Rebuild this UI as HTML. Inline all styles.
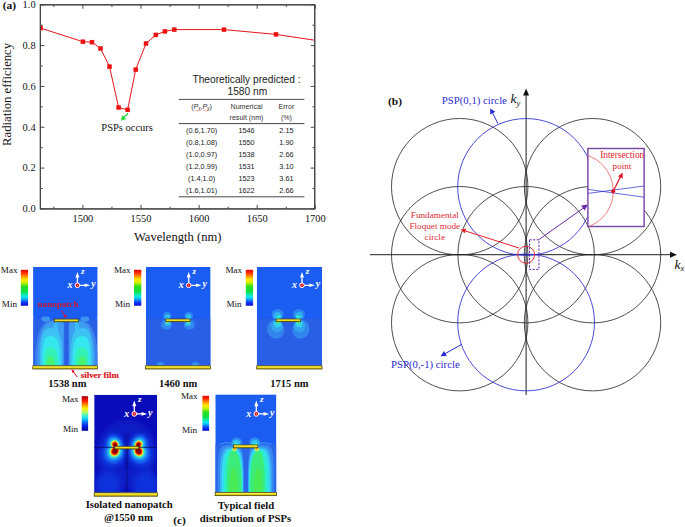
<!DOCTYPE html>
<html><head><meta charset="utf-8"><title>figure</title>
<style>html,body{margin:0;padding:0;background:#fff;}svg{display:block;}text{white-space:pre;}</style></head><body>
<svg width="685" height="527" viewBox="0 0 685 527">
<rect width="685" height="527" fill="#fff"/>
<defs>
<linearGradient id="jet" x1="0" y1="0" x2="0" y2="1"><stop offset="0" stop-color="#e80000"/><stop offset="0.08" stop-color="#ff2800"/><stop offset="0.18" stop-color="#ff9000"/><stop offset="0.27" stop-color="#ffe800"/><stop offset="0.36" stop-color="#c8f000"/><stop offset="0.46" stop-color="#30e020"/><stop offset="0.6" stop-color="#10e040"/><stop offset="0.68" stop-color="#10e8a0"/><stop offset="0.76" stop-color="#10e8f0"/><stop offset="0.84" stop-color="#1090f0"/><stop offset="0.92" stop-color="#1030f0"/><stop offset="1" stop-color="#0808c8"/></linearGradient>
<linearGradient id="hot" x1="0" y1="0" x2="0" y2="1"><stop offset="0" stop-color="#900000"/><stop offset="0.05" stop-color="#d00000"/><stop offset="0.14" stop-color="#ff2000"/><stop offset="0.25" stop-color="#ff9000"/><stop offset="0.35" stop-color="#fff000"/><stop offset="0.46" stop-color="#b0f860"/><stop offset="0.55" stop-color="#50f0c0"/><stop offset="0.64" stop-color="#10d8f8"/><stop offset="0.75" stop-color="#1070f8"/><stop offset="0.86" stop-color="#0820e0"/><stop offset="1" stop-color="#0404a0"/></linearGradient>
<linearGradient id="gold" x1="0" y1="0" x2="0" y2="1"><stop offset="0" stop-color="#fff458"/><stop offset="0.55" stop-color="#eedc20"/><stop offset="1" stop-color="#b09800"/></linearGradient>
<filter id="b1" x="-30%" y="-30%" width="160%" height="160%"><feGaussianBlur stdDeviation="1"/></filter>
<filter id="b2" x="-30%" y="-30%" width="160%" height="160%"><feGaussianBlur stdDeviation="2"/></filter>
<filter id="b3" x="-30%" y="-30%" width="160%" height="160%"><feGaussianBlur stdDeviation="3"/></filter>
<filter id="b07" x="-30%" y="-30%" width="160%" height="160%"><feGaussianBlur stdDeviation="0.7"/></filter>
<filter id="b06" x="-10%" y="-30%" width="120%" height="160%"><feGaussianBlur stdDeviation="0.7"/></filter>
<filter id="b05" x="-30%" y="-30%" width="160%" height="160%"><feGaussianBlur stdDeviation="0.5"/></filter>
</defs>
<g id="chartA">
<rect x="40.4" y="4.8" width="274.3" height="204.1" fill="none" stroke="#484848" stroke-width="1.15"/>
<path d="M53.85 208.9 v-2.3 M53.85 4.8 v2.3 M82.90 208.9 v-4.0 M82.90 4.8 v4.0 M111.95 208.9 v-2.3 M111.95 4.8 v2.3 M141.00 208.9 v-4.0 M141.00 4.8 v4.0 M170.05 208.9 v-2.3 M170.05 4.8 v2.3 M199.10 208.9 v-4.0 M199.10 4.8 v4.0 M228.15 208.9 v-2.3 M228.15 4.8 v2.3 M257.20 208.9 v-4.0 M257.20 4.8 v4.0 M286.25 208.9 v-2.3 M286.25 4.8 v2.3 M315.30 208.9 v-4.0 M315.30 4.8 v4.0 M40.4 208.90 h4.0 M314.7 208.90 h-4.0 M40.4 188.49 h2.3 M314.7 188.49 h-2.3 M40.4 168.08 h4.0 M314.7 168.08 h-4.0 M40.4 147.67 h2.3 M314.7 147.67 h-2.3 M40.4 127.26 h4.0 M314.7 127.26 h-4.0 M40.4 106.85 h2.3 M314.7 106.85 h-2.3 M40.4 86.44 h4.0 M314.7 86.44 h-4.0 M40.4 66.03 h2.3 M314.7 66.03 h-2.3 M40.4 45.62 h4.0 M314.7 45.62 h-4.0 M40.4 25.21 h2.3 M314.7 25.21 h-2.3 M40.4 4.80 h4.0 M314.7 4.80 h-4.0" stroke="#484848" stroke-width="1" fill="none"/>
<text x="82.90" y="221.6" font-family='"Liberation Serif", serif' font-size="10.4" text-anchor="middle" fill="#111">1500</text>
<text x="141.00" y="221.6" font-family='"Liberation Serif", serif' font-size="10.4" text-anchor="middle" fill="#111">1550</text>
<text x="199.10" y="221.6" font-family='"Liberation Serif", serif' font-size="10.4" text-anchor="middle" fill="#111">1600</text>
<text x="257.20" y="221.6" font-family='"Liberation Serif", serif' font-size="10.4" text-anchor="middle" fill="#111">1650</text>
<text x="315.30" y="221.6" font-family='"Liberation Serif", serif' font-size="10.4" text-anchor="middle" fill="#111">1700</text>
<text x="35.6" y="212.30" font-family='"Liberation Serif", serif' font-size="10.4" text-anchor="end" fill="#111">0.0</text>
<text x="35.6" y="171.48" font-family='"Liberation Serif", serif' font-size="10.4" text-anchor="end" fill="#111">0.2</text>
<text x="35.6" y="130.66" font-family='"Liberation Serif", serif' font-size="10.4" text-anchor="end" fill="#111">0.4</text>
<text x="35.6" y="89.84" font-family='"Liberation Serif", serif' font-size="10.4" text-anchor="end" fill="#111">0.6</text>
<text x="35.6" y="49.02" font-family='"Liberation Serif", serif' font-size="10.4" text-anchor="end" fill="#111">0.8</text>
<text x="35.6" y="8.20" font-family='"Liberation Serif", serif' font-size="10.4" text-anchor="end" fill="#111">1.0</text>
<text x="177.7" y="241.4" font-family='"Liberation Serif", serif' font-size="12.6" text-anchor="middle" fill="#111">Wavelength (nm)</text>
<text transform="translate(11.2,94.4) rotate(-90)" font-family='"Liberation Serif", serif' font-size="12.7" text-anchor="middle" fill="#111">Radiation efficiency</text>
<text x="2.7" y="9.1" font-family='"Liberation Serif", serif' font-size="11.4" font-weight="bold" fill="#111">(a)</text>
<clipPath id="plotclip"><rect x="40.4" y="4.8" width="274.3" height="204.1"/></clipPath>
<g clip-path="url(#plotclip)">
<path d="M40.6 28.1 L82.9 41.7 L92 42.2 L100.5 48.5 L109.5 66.6 L118.6 107.5 L127.6 109.8 L135.7 69.6 L146 43.5 L155.8 34.9 L164.9 31.4 L174.3 29.6 L224 29.6 L276 34.4 L314.5 40.2" fill="none" stroke="#e4151c" stroke-width="1.0" stroke-linejoin="round"/>
<rect x="38.35" y="25.85" width="4.5" height="4.5" fill="#ee1111"/>
<rect x="80.65" y="39.45" width="4.5" height="4.5" fill="#ee1111"/>
<rect x="89.75" y="39.95" width="4.5" height="4.5" fill="#ee1111"/>
<rect x="98.25" y="46.25" width="4.5" height="4.5" fill="#ee1111"/>
<rect x="107.25" y="64.35" width="4.5" height="4.5" fill="#ee1111"/>
<rect x="116.35" y="105.25" width="4.5" height="4.5" fill="#ee1111"/>
<rect x="125.35" y="107.55" width="4.5" height="4.5" fill="#ee1111"/>
<rect x="133.45" y="67.35" width="4.5" height="4.5" fill="#ee1111"/>
<rect x="143.75" y="41.25" width="4.5" height="4.5" fill="#ee1111"/>
<rect x="153.55" y="32.65" width="4.5" height="4.5" fill="#ee1111"/>
<rect x="162.65" y="29.15" width="4.5" height="4.5" fill="#ee1111"/>
<rect x="172.05" y="27.35" width="4.5" height="4.5" fill="#ee1111"/>
<rect x="221.75" y="27.35" width="4.5" height="4.5" fill="#ee1111"/>
<rect x="273.75" y="32.15" width="4.5" height="4.5" fill="#ee1111"/>
</g>
<rect x="40.4" y="4.8" width="274.3" height="204.1" fill="none" stroke="#484848" stroke-width="1.15"/>
<path d="M127.9 113.2 L124 117.4" stroke="#22dd33" stroke-width="1.3" fill="none"/>
<path d="M121.0 120.6 L122.1 115.2 L126.4 119.0 Z" fill="#22dd33"/>
<text x="101.3" y="130.8" font-family='"Liberation Serif", serif' font-size="10.5" fill="#111">PSPs occurs</text>
<text x="246.5" y="83" font-family='"Liberation Sans", sans-serif' font-size="10.2" text-anchor="middle" fill="#222">Theoretically predicted :</text>
<text x="247.3" y="94.6" font-family='"Liberation Sans", sans-serif' font-size="10.2" text-anchor="middle" fill="#222">1580 nm</text>
<path d="M178.8 99.4 H304.4 M178.8 123.6 H304.4 M178.8 196.8 H304.4" stroke="#333" stroke-width="0.9"/>
<text x="201.6" y="108.6" font-family='"Liberation Sans", sans-serif' font-size="7.1" text-anchor="middle" fill="#333">(<tspan font-style="italic">P</tspan><tspan font-style="italic" font-size="4.6" dy="1">x</tspan><tspan dy="-1">,</tspan><tspan font-style="italic">P</tspan><tspan font-style="italic" font-size="4.6" dy="1">y</tspan><tspan dy="-1">)</tspan></text>
<path d="M195 110.6 q1 -1 2 0 t2 0 t2 0 M203 110.6 q1 -1 2 0 t2 0 t2 0" stroke="#e05050" stroke-width="0.5" fill="none"/>
<text x="246.5" y="108.6" font-family='"Liberation Sans", sans-serif' font-size="7.1" text-anchor="middle" fill="#333">Numerical</text>
<text x="246.5" y="120.4" font-family='"Liberation Sans", sans-serif' font-size="7.1" text-anchor="middle" fill="#333">result (nm)</text>
<text x="286.4" y="108.6" font-family='"Liberation Sans", sans-serif' font-size="7.1" text-anchor="middle" fill="#333">Error</text>
<text x="286.4" y="120.4" font-family='"Liberation Sans", sans-serif' font-size="7.1" text-anchor="middle" fill="#333">(%)</text>
<text x="201.6" y="132.9" font-family='"Liberation Sans", sans-serif' font-size="7.3" text-anchor="middle" fill="#222">(0.6,1.70)</text>
<text x="246.5" y="132.9" font-family='"Liberation Sans", sans-serif' font-size="7.3" text-anchor="middle" fill="#222">1546</text>
<text x="286.4" y="132.9" font-family='"Liberation Sans", sans-serif' font-size="7.3" text-anchor="middle" fill="#222">2.15</text>
<text x="201.6" y="144.9" font-family='"Liberation Sans", sans-serif' font-size="7.3" text-anchor="middle" fill="#222">(0.8,1.08)</text>
<text x="246.5" y="144.9" font-family='"Liberation Sans", sans-serif' font-size="7.3" text-anchor="middle" fill="#222">1550</text>
<text x="286.4" y="144.9" font-family='"Liberation Sans", sans-serif' font-size="7.3" text-anchor="middle" fill="#222">1.90</text>
<text x="201.6" y="156.9" font-family='"Liberation Sans", sans-serif' font-size="7.3" text-anchor="middle" fill="#222">(1.0,0.97)</text>
<text x="246.5" y="156.9" font-family='"Liberation Sans", sans-serif' font-size="7.3" text-anchor="middle" fill="#222">1538</text>
<text x="286.4" y="156.9" font-family='"Liberation Sans", sans-serif' font-size="7.3" text-anchor="middle" fill="#222">2.66</text>
<text x="201.6" y="168.70000000000002" font-family='"Liberation Sans", sans-serif' font-size="7.3" text-anchor="middle" fill="#222">(1.2,0.99)</text>
<text x="246.5" y="168.70000000000002" font-family='"Liberation Sans", sans-serif' font-size="7.3" text-anchor="middle" fill="#222">1531</text>
<text x="286.4" y="168.70000000000002" font-family='"Liberation Sans", sans-serif' font-size="7.3" text-anchor="middle" fill="#222">3.10</text>
<text x="201.6" y="180.5" font-family='"Liberation Sans", sans-serif' font-size="7.3" text-anchor="middle" fill="#222">(1.4,1.0)</text>
<text x="246.5" y="180.5" font-family='"Liberation Sans", sans-serif' font-size="7.3" text-anchor="middle" fill="#222">1523</text>
<text x="286.4" y="180.5" font-family='"Liberation Sans", sans-serif' font-size="7.3" text-anchor="middle" fill="#222">3.61</text>
<text x="201.6" y="192.9" font-family='"Liberation Sans", sans-serif' font-size="7.3" text-anchor="middle" fill="#222">(1.6,1.01)</text>
<text x="246.5" y="192.9" font-family='"Liberation Sans", sans-serif' font-size="7.3" text-anchor="middle" fill="#222">1622</text>
<text x="286.4" y="192.9" font-family='"Liberation Sans", sans-serif' font-size="7.3" text-anchor="middle" fill="#222">2.66</text>
</g>
<g id="diagB">
<path d="M370 254.7 H672 M526.1 395 V94" stroke="#111" stroke-width="0.95" fill="none"/>
<path d="M677 254.7 l-7 -3 v6 Z M526.1 88.6 l-3 7 h6 Z" fill="#111"/>
<circle cx="459.70" cy="186.70" r="68.2" fill="none" stroke="#222" stroke-width="0.8"/>
<circle cx="459.70" cy="254.70" r="68.2" fill="none" stroke="#222" stroke-width="0.8"/>
<circle cx="459.70" cy="322.70" r="68.2" fill="none" stroke="#222" stroke-width="0.8"/>
<circle cx="526.10" cy="254.70" r="68.2" fill="none" stroke="#222" stroke-width="0.8"/>
<circle cx="592.50" cy="186.70" r="68.2" fill="none" stroke="#222" stroke-width="0.8"/>
<circle cx="592.50" cy="254.70" r="68.2" fill="none" stroke="#222" stroke-width="0.8"/>
<circle cx="592.50" cy="322.70" r="68.2" fill="none" stroke="#222" stroke-width="0.8"/>
<circle cx="526.10" cy="186.95" r="68.4" fill="none" stroke="#2a2ad0" stroke-width="0.85"/>
<circle cx="526.10" cy="322.45" r="68.4" fill="none" stroke="#2a2ad0" stroke-width="0.85"/>
<circle cx="526.1" cy="254.7" r="8.5" fill="none" stroke="#e8222a" stroke-width="0.9"/>
<rect x="529.5" y="239.8" width="9.4" height="29.6" fill="none" stroke="#6a2aa8" stroke-width="1" stroke-dasharray="2.2 1.4"/>
<path d="M538.9 239.6 L584 207.6" stroke="#6a2aa8" stroke-width="1" fill="none"/>
<path d="M588 204.6 L581.2 205.4 L584.6 210.4 Z" fill="#6a2aa8"/>
<path d="M519 248 L464.6 230.7" stroke="#e8222a" stroke-width="1" fill="none"/>
<path d="M460.8 229.5 L466.2 228.4 L464.6 233.4 Z" fill="#e8222a"/>
<text x="434.8" y="217.8" font-family='"Liberation Serif", serif' font-size="9.2" text-anchor="middle" fill="#e02c38">Fundamental</text>
<text x="434.8" y="228.7" font-family='"Liberation Serif", serif' font-size="9.2" text-anchor="middle" fill="#e02c38">Floquet mode</text>
<text x="434.8" y="239.5" font-family='"Liberation Serif", serif' font-size="9.2" text-anchor="middle" fill="#e02c38">circle</text>
<text x="441.8" y="103.9" font-family='"Liberation Serif", serif' font-size="10.75" fill="#2a2ad0">PSP(0,1) circle</text>
<text x="391.0" y="367.7" font-family='"Liberation Serif", serif' font-size="10.75" fill="#2a2ad0">PSP(0,-1) circle</text>
<path d="M497.9 123.5 L492.4 112.6" stroke="#2a2ad0" stroke-width="1" fill="none"/>
<path d="M490.2 108.4 L495.4 111.8 L490.2 114.4 Z" fill="#2a2ad0"/>
<path d="M461.9 344.3 L445 353.7" stroke="#2a2ad0" stroke-width="1" fill="none"/>
<path d="M440.5 356.2 L444.0 351.0 L446.8 356.0 Z" fill="#2a2ad0"/>
<text x="510.6" y="103.4" font-family='"Liberation Serif", serif' font-size="13.5" font-style="italic" fill="#111">k<tspan font-size="8.5" dy="2.4">y</tspan></text>
<text x="674.5" y="268.6" font-family='"Liberation Serif", serif' font-size="13.5" font-style="italic" fill="#111">k<tspan font-size="8.5" dy="2.4">x</tspan></text>
<text x="388" y="105.4" font-family='"Liberation Serif", serif' font-size="11.4" font-weight="bold" fill="#111">(b)</text>
<clipPath id="insclip"><rect x="588" y="148.6" width="56" height="78"/></clipPath>
<rect x="587.9" y="148.5" width="56.2" height="78" fill="#fff" stroke="#7b48a8" stroke-width="1.45"/>
<g clip-path="url(#insclip)">
<circle cx="575.5" cy="191.2" r="37.8" fill="none" stroke="#ee5a5a" stroke-width="0.8"/>
<path d="M588 189.4 L644 197.2 M588 193.4 L644 186" stroke="#2a2ad0" stroke-width="0.7" fill="none"/>
</g>
<circle cx="613.2" cy="191.3" r="2" fill="#e01020"/>
<path d="M613.6 190.6 L620.6 176.6" stroke="#e01020" stroke-width="1.2" fill="none"/>
<path d="M622.8 172.4 L622.6 178.6 L618 176.2 Z" fill="#e01020"/>
<text x="622.2" y="158.4" font-family='"Liberation Serif", serif' font-size="9.35" text-anchor="middle" fill="#e01828">Intersection</text>
<text x="622" y="169.4" font-family='"Liberation Serif", serif' font-size="9.15" text-anchor="middle" fill="#e01828">point</text>
</g>
<g id="fieldsC">
<clipPath id="pc0"><rect x="33.2" y="267.0" width="64.3" height="98.7"/></clipPath>
<g clip-path="url(#pc0)">
<rect x="33.2" y="267.0" width="64.3" height="98.7" fill="#1b5cf1"/>
<rect x="33.2" y="318.8" width="64.3" height="46.89999999999998" fill="#295fe4"/>
<g filter="url(#b07)">
<path d="M34.90 365.7 C34.90 335.67 40.27 320.20 52.80 320.20 L61.80 320.20 Q64.30 320.20 64.30 324.20 L64.30 365.7 Z" fill="#3a80ee"/>
<path d="M37.50 365.7 C37.50 336.46 42.36 321.40 53.70 321.40 L61.10 321.40 Q63.60 321.40 63.60 325.40 L63.60 365.7 Z" fill="#3e9ef2"/>
<path d="M40.00 365.70 L40.04 356.99 L40.17 351.93 L40.39 347.78 L40.69 344.21 L41.08 341.08 L41.56 338.33 L42.12 335.94 L42.78 333.87 L43.54 332.14 L44.40 330.72 L45.38 329.62 L46.52 328.83 L47.91 328.36 L50.30 328.20 L53.13 328.36 L54.78 328.83 L56.13 329.62 L57.29 330.72 L58.31 332.14 L59.20 333.87 L59.98 335.94 L60.65 338.33 L61.22 341.08 L61.68 344.21 L62.04 347.78 L62.30 351.93 L62.45 356.99 L62.50 365.70 Z" fill="#3cc2f4"/>
<path d="M42.10 365.70 L42.13 358.85 L42.24 354.87 L42.41 351.60 L42.65 348.79 L42.96 346.33 L43.34 344.17 L43.79 342.29 L44.32 340.66 L44.92 339.30 L45.60 338.18 L46.38 337.31 L47.29 336.70 L48.40 336.32 L50.30 336.20 L52.62 336.32 L53.97 336.70 L55.08 337.31 L56.03 338.18 L56.87 339.30 L57.60 340.66 L58.24 342.29 L58.79 344.17 L59.25 346.33 L59.63 348.79 L59.92 351.60 L60.13 354.87 L60.26 358.85 L60.30 365.70 Z" fill="#34e6ee"/>
<path d="M44.20 365.70 L44.23 361.40 L44.30 358.91 L44.43 356.86 L44.61 355.10 L44.84 353.55 L45.12 352.20 L45.46 351.02 L45.85 350.00 L46.29 349.14 L46.80 348.44 L47.39 347.90 L48.06 347.51 L48.88 347.28 L50.30 347.20 L52.04 347.28 L53.05 347.51 L53.88 347.90 L54.60 348.44 L55.22 349.14 L55.77 350.00 L56.25 351.02 L56.67 352.20 L57.01 353.55 L57.30 355.10 L57.52 356.86 L57.67 358.91 L57.77 361.40 L57.80 365.70 Z" fill="#30f2b8"/>
<path d="M46.70 365.70 L46.72 363.49 L46.76 362.21 L46.84 361.16 L46.94 360.26 L47.08 359.46 L47.24 358.77 L47.44 358.16 L47.67 357.64 L47.94 357.20 L48.24 356.84 L48.58 356.56 L48.98 356.36 L49.46 356.24 L50.30 356.20 L51.28 356.24 L51.84 356.36 L52.31 356.56 L52.71 356.84 L53.06 357.20 L53.37 357.64 L53.63 358.16 L53.86 358.77 L54.06 359.46 L54.22 360.26 L54.34 361.16 L54.43 362.21 L54.48 363.49 L54.50 365.70 Z" fill="#44f274"/>
<path d="M52.30 330.7 L55.10 321.8 L57.90 321.8 L57.80 335.7 Z" fill="#3cc2f4" opacity="0.8"/>
<path d="M97.90 365.7 C97.90 335.67 92.53 320.20 80.00 320.20 L71.00 320.20 Q68.50 320.20 68.50 324.20 L68.50 365.7 Z" fill="#3a80ee"/>
<path d="M95.30 365.7 C95.30 336.46 90.44 321.40 79.10 321.40 L71.70 321.40 Q69.20 321.40 69.20 325.40 L69.20 365.7 Z" fill="#3e9ef2"/>
<path d="M92.80 365.70 L92.76 356.99 L92.63 351.93 L92.41 347.78 L92.11 344.21 L91.72 341.08 L91.24 338.33 L90.68 335.94 L90.02 333.87 L89.26 332.14 L88.40 330.72 L87.42 329.62 L86.28 328.83 L84.89 328.36 L82.50 328.20 L79.67 328.36 L78.02 328.83 L76.67 329.62 L75.51 330.72 L74.49 332.14 L73.60 333.87 L72.82 335.94 L72.15 338.33 L71.58 341.08 L71.12 344.21 L70.76 347.78 L70.50 351.93 L70.35 356.99 L70.30 365.70 Z" fill="#3cc2f4"/>
<path d="M90.70 365.70 L90.67 358.85 L90.56 354.87 L90.39 351.60 L90.15 348.79 L89.84 346.33 L89.46 344.17 L89.01 342.29 L88.48 340.66 L87.88 339.30 L87.20 338.18 L86.42 337.31 L85.51 336.70 L84.40 336.32 L82.50 336.20 L80.18 336.32 L78.83 336.70 L77.72 337.31 L76.77 338.18 L75.93 339.30 L75.20 340.66 L74.56 342.29 L74.01 344.17 L73.55 346.33 L73.17 348.79 L72.88 351.60 L72.67 354.87 L72.54 358.85 L72.50 365.70 Z" fill="#34e6ee"/>
<path d="M88.60 365.70 L88.57 361.40 L88.50 358.91 L88.37 356.86 L88.19 355.10 L87.96 353.55 L87.68 352.20 L87.34 351.02 L86.95 350.00 L86.51 349.14 L86.00 348.44 L85.41 347.90 L84.74 347.51 L83.92 347.28 L82.50 347.20 L80.76 347.28 L79.75 347.51 L78.92 347.90 L78.20 348.44 L77.58 349.14 L77.03 350.00 L76.55 351.02 L76.13 352.20 L75.79 353.55 L75.50 355.10 L75.28 356.86 L75.13 358.91 L75.03 361.40 L75.00 365.70 Z" fill="#30f2b8"/>
<path d="M86.10 365.70 L86.08 363.49 L86.04 362.21 L85.96 361.16 L85.86 360.26 L85.72 359.46 L85.56 358.77 L85.36 358.16 L85.13 357.64 L84.86 357.20 L84.56 356.84 L84.22 356.56 L83.82 356.36 L83.34 356.24 L82.50 356.20 L81.52 356.24 L80.96 356.36 L80.49 356.56 L80.09 356.84 L79.74 357.20 L79.43 357.64 L79.17 358.16 L78.94 358.77 L78.74 359.46 L78.58 360.26 L78.46 361.16 L78.37 362.21 L78.32 363.49 L78.30 365.70 Z" fill="#44f274"/>
<path d="M80.50 330.7 L77.70 321.8 L74.90 321.8 L75.00 335.7 Z" fill="#3cc2f4" opacity="0.8"/>
</g>
<ellipse cx="45.75" cy="319.00" rx="4.4" ry="2.8" fill="#3a94f0" filter="url(#b05)"/>
<ellipse cx="84.95" cy="319.00" rx="4.4" ry="2.8" fill="#3a94f0" filter="url(#b05)"/>
<rect x="33.2" y="267.0" width="64.3" height="49.40000000000001" fill="#1b5cf1"/>
</g>
<rect x="54.3" y="319.1" width="24.2" height="2.7" fill="url(#gold)" stroke="#3c3600" stroke-width="0.7"/>
<rect x="32.8" y="365.8" width="64.6" height="3.2" fill="url(#gold)" stroke="#3c3600" stroke-width="0.7"/>
<rect x="20.8" y="269.8" width="7.3" height="35.9" fill="url(#jet)"/>
<text x="0.80" y="273.3" font-family='"Liberation Serif", serif' font-size="9.1" fill="#111">Max</text>
<text x="1.80" y="307.3" font-family='"Liberation Serif", serif' font-size="9.1" fill="#111">Min</text>
<g>
<path d="M77.4 285.3 V277.3 M77.4 285.3 H85.4" stroke="#fff" stroke-width="1.3" fill="none"/>
<path d="M77.4 272.0 l-2.0 5.6 h4.0 Z M90.30000000000001 285.3 l-5.6 -1.8 v3.6 Z" fill="#fff"/>
<circle cx="77.4" cy="285.3" r="2.35" fill="#e01018" stroke="#fff" stroke-width="1"/>
<circle cx="77.4" cy="285.3" r="0.55" fill="#fff" opacity="0.9"/>
<text x="81.10" y="273.70" font-family='"Liberation Serif", serif' font-size="9" font-style="italic" font-weight="bold" fill="#fff">z</text>
<text x="67.40" y="288.00" font-family='"Liberation Serif", serif' font-size="10" font-style="italic" font-weight="bold" fill="#fff">x</text>
<text x="91.20" y="287.20" font-family='"Liberation Serif", serif' font-size="10" font-style="italic" font-weight="bold" fill="#fff">y</text>
</g>
<text x="67.3" y="387.2" font-family='"Liberation Serif", serif' font-size="10.5" font-weight="bold" text-anchor="middle" fill="#111">1538 nm</text>
<clipPath id="pc1"><rect x="145.9" y="267.0" width="64.7" height="98.7"/></clipPath>
<g clip-path="url(#pc1)">
<rect x="145.9" y="267.0" width="64.7" height="98.7" fill="#1b5cf1"/>
<rect x="145.9" y="318.7" width="64.7" height="47.0" fill="#295fe4"/>
<g filter="url(#b05)">
<ellipse cx="167.15" cy="315.80" rx="4.3" ry="4.1" fill="#2c86f2" />
<ellipse cx="166.55" cy="324.70" rx="5.4" ry="4.9" fill="#3088ee" />
<ellipse cx="167.35" cy="316.70" rx="2.6" ry="2.4" fill="#30bcf2" />
<ellipse cx="167.75" cy="323.30" rx="3.0" ry="2.7" fill="#30bcf2" />
<ellipse cx="167.35" cy="322.20" rx="1.5" ry="1.2" fill="#70e890" />
<ellipse cx="160.55" cy="366.30" rx="4.4" ry="4.6" fill="#3088ee" />
<ellipse cx="160.55" cy="366.30" rx="2.4" ry="2.4" fill="#32a2f0" />
<ellipse cx="188.75" cy="315.80" rx="4.3" ry="4.1" fill="#2c86f2" />
<ellipse cx="189.35" cy="324.70" rx="5.4" ry="4.9" fill="#3088ee" />
<ellipse cx="188.55" cy="316.70" rx="2.6" ry="2.4" fill="#30bcf2" />
<ellipse cx="188.15" cy="323.30" rx="3.0" ry="2.7" fill="#30bcf2" />
<ellipse cx="188.55" cy="322.20" rx="1.5" ry="1.2" fill="#70e890" />
<ellipse cx="195.35" cy="366.30" rx="4.4" ry="4.6" fill="#3088ee" />
<ellipse cx="195.35" cy="366.30" rx="2.4" ry="2.4" fill="#32a2f0" />
</g>
</g>
<rect x="165.8" y="319.0" width="24.3" height="2.7" fill="url(#gold)" stroke="#3c3600" stroke-width="0.7"/>
<rect x="145.3" y="365.8" width="65.3" height="3.2" fill="url(#gold)" stroke="#3c3600" stroke-width="0.7"/>
<rect x="134.0" y="269.8" width="7.3" height="35.9" fill="url(#jet)"/>
<text x="114.00" y="273.3" font-family='"Liberation Serif", serif' font-size="9.1" fill="#111">Max</text>
<text x="115.00" y="307.3" font-family='"Liberation Serif", serif' font-size="9.1" fill="#111">Min</text>
<g>
<path d="M188.7 285.3 V277.3 M188.7 285.3 H196.7" stroke="#fff" stroke-width="1.3" fill="none"/>
<path d="M188.7 272.0 l-2.0 5.6 h4.0 Z M201.6 285.3 l-5.6 -1.8 v3.6 Z" fill="#fff"/>
<circle cx="188.7" cy="285.3" r="2.35" fill="#e01018" stroke="#fff" stroke-width="1"/>
<circle cx="188.7" cy="285.3" r="0.55" fill="#fff" opacity="0.9"/>
<text x="192.40" y="273.70" font-family='"Liberation Serif", serif' font-size="9" font-style="italic" font-weight="bold" fill="#fff">z</text>
<text x="178.70" y="288.00" font-family='"Liberation Serif", serif' font-size="10" font-style="italic" font-weight="bold" fill="#fff">x</text>
<text x="202.50" y="287.20" font-family='"Liberation Serif", serif' font-size="10" font-style="italic" font-weight="bold" fill="#fff">y</text>
</g>
<text x="178.2" y="387.2" font-family='"Liberation Serif", serif' font-size="10.5" font-weight="bold" text-anchor="middle" fill="#111">1460 nm</text>
<clipPath id="pc2"><rect x="256.8" y="267.0" width="65.3" height="98.7"/></clipPath>
<g clip-path="url(#pc2)">
<rect x="256.8" y="267.0" width="65.3" height="98.7" fill="#1b5cf1"/>
<rect x="256.8" y="318.7" width="65.3" height="47.0" fill="#295fe4"/>
<g filter="url(#b05)">
<ellipse cx="277.70" cy="314.50" rx="6.0" ry="5.6" fill="#2c84f2" />
<ellipse cx="275.70" cy="329.30" rx="8.6" ry="9.4" fill="#3285ec" transform="rotate(-18 275.70 329.30)"/>
<ellipse cx="277.50" cy="315.70" rx="3.9" ry="3.7" fill="#30b0f2" />
<ellipse cx="276.90" cy="325.90" rx="5.8" ry="6.0" fill="#34a4f0" transform="rotate(-18 277.70 325.70)"/>
<ellipse cx="278.50" cy="317.10" rx="2.3" ry="2.1" fill="#30e0dc" />
<ellipse cx="277.50" cy="323.90" rx="3.5" ry="3.4" fill="#30d2ee" />
<ellipse cx="278.30" cy="322.60" rx="2.0" ry="1.7" fill="#50e890" />
<ellipse cx="298.90" cy="314.50" rx="6.0" ry="5.6" fill="#2c84f2" />
<ellipse cx="300.90" cy="329.30" rx="8.6" ry="9.4" fill="#3285ec" transform="rotate(18 300.90 329.30)"/>
<ellipse cx="299.10" cy="315.70" rx="3.9" ry="3.7" fill="#30b0f2" />
<ellipse cx="299.70" cy="325.90" rx="5.8" ry="6.0" fill="#34a4f0" transform="rotate(18 298.90 325.70)"/>
<ellipse cx="298.10" cy="317.10" rx="2.3" ry="2.1" fill="#30e0dc" />
<ellipse cx="299.10" cy="323.90" rx="3.5" ry="3.4" fill="#30d2ee" />
<ellipse cx="298.30" cy="322.60" rx="2.0" ry="1.7" fill="#50e890" />
</g>
</g>
<rect x="276.1" y="319.0" width="24.4" height="2.7" fill="url(#gold)" stroke="#3c3600" stroke-width="0.7"/>
<rect x="256.7" y="365.8" width="65.3" height="3.2" fill="url(#gold)" stroke="#3c3600" stroke-width="0.7"/>
<rect x="245.8" y="269.8" width="7.3" height="35.9" fill="url(#jet)"/>
<text x="225.40" y="273.3" font-family='"Liberation Serif", serif' font-size="9.1" fill="#111">Max</text>
<text x="226.40" y="307.3" font-family='"Liberation Serif", serif' font-size="9.1" fill="#111">Min</text>
<g>
<path d="M302.0 285.3 V277.3 M302.0 285.3 H310.0" stroke="#fff" stroke-width="1.3" fill="none"/>
<path d="M302.0 272.0 l-2.0 5.6 h4.0 Z M314.9 285.3 l-5.6 -1.8 v3.6 Z" fill="#fff"/>
<circle cx="302.0" cy="285.3" r="2.35" fill="#e01018" stroke="#fff" stroke-width="1"/>
<circle cx="302.0" cy="285.3" r="0.55" fill="#fff" opacity="0.9"/>
<text x="305.70" y="273.70" font-family='"Liberation Serif", serif' font-size="9" font-style="italic" font-weight="bold" fill="#fff">z</text>
<text x="292.00" y="288.00" font-family='"Liberation Serif", serif' font-size="10" font-style="italic" font-weight="bold" fill="#fff">x</text>
<text x="315.80" y="287.20" font-family='"Liberation Serif", serif' font-size="10" font-style="italic" font-weight="bold" fill="#fff">y</text>
</g>
<text x="289.4" y="387.2" font-family='"Liberation Serif", serif' font-size="10.5" font-weight="bold" text-anchor="middle" fill="#111">1715 nm</text>
<text x="58.0" y="307.2" font-family='"Liberation Serif", serif' font-size="9.1" font-weight="bold" text-anchor="middle" fill="#c81830" filter="url(#b06)">nanopatch</text>
<path d="M61.6 310.6 L65.2 316" stroke="#e01020" stroke-width="1" fill="none"/><path d="M66.6 318.2 L63.4 316.2 L66 314.4 Z" fill="#e01020"/>
<path d="M77.2 377 L73 371.4" stroke="#e01020" stroke-width="1" fill="none"/><path d="M71.4 369.2 L74.8 371 L72.4 373 Z" fill="#e01020"/>
<text x="80.8" y="377.6" font-family='"Liberation Serif", serif' font-size="8.9" font-weight="bold" fill="#e01020" stroke="#e01020" stroke-width="0.15">silver film</text>
<clipPath id="pc3"><rect x="94.2" y="394.8" width="62.9" height="97.9"/></clipPath>
<g clip-path="url(#pc3)">
<rect x="94.2" y="394.8" width="62.9" height="97.9" fill="#0a0cba"/>
<g filter="url(#b3)">
<ellipse cx="126.75" cy="453.65" rx="30" ry="34" fill="#0e1cc4" />
<ellipse cx="107.75" cy="486.70" rx="13" ry="16" fill="#1030dc" />
<ellipse cx="145.75" cy="486.70" rx="13" ry="16" fill="#1030dc" />
</g>
<g filter="url(#b2)">
<ellipse cx="113.80" cy="452.45" rx="14.10" ry="16.20" fill="#1030dc" transform="rotate(30 113.80 452.45)"/>
<ellipse cx="114.20" cy="443.85" rx="10.34" ry="11.66" fill="#1030dc" transform="rotate(-30 114.20 443.85)"/>
<ellipse cx="139.70" cy="452.45" rx="14.10" ry="16.20" fill="#1030dc" transform="rotate(-30 139.70 452.45)"/>
<ellipse cx="139.30" cy="443.85" rx="10.34" ry="11.66" fill="#1030dc" transform="rotate(30 139.30 443.85)"/>
</g>
<g filter="url(#b1)">
<ellipse cx="114.20" cy="451.97" rx="10.34" ry="11.88" fill="#1664f2" transform="rotate(30 114.20 451.97)"/>
<ellipse cx="114.44" cy="444.09" rx="8.08" ry="9.12" fill="#1664f2" transform="rotate(-30 114.44 444.09)"/>
<ellipse cx="114.54" cy="451.56" rx="7.14" ry="8.21" fill="#28c4f2" transform="rotate(30 114.54 451.56)"/>
<ellipse cx="114.70" cy="444.35" rx="5.64" ry="6.36" fill="#28c4f2" transform="rotate(-30 114.70 444.35)"/>
<ellipse cx="139.30" cy="451.97" rx="10.34" ry="11.88" fill="#1664f2" transform="rotate(-30 139.30 451.97)"/>
<ellipse cx="139.06" cy="444.09" rx="8.08" ry="9.12" fill="#1664f2" transform="rotate(30 139.06 444.09)"/>
<ellipse cx="138.96" cy="451.56" rx="7.14" ry="8.21" fill="#28c4f2" transform="rotate(-30 138.96 451.56)"/>
<ellipse cx="138.80" cy="444.35" rx="5.64" ry="6.36" fill="#28c4f2" transform="rotate(30 138.80 444.35)"/>
</g>
<g filter="url(#b05)">
<ellipse cx="114.71" cy="451.36" rx="5.55" ry="6.37" fill="#50f0b0" transform="rotate(30 114.71 451.36)"/>
<ellipse cx="114.84" cy="444.49" rx="4.32" ry="4.88" fill="#50f0b0" transform="rotate(-30 114.84 444.49)"/>
<ellipse cx="114.81" cy="451.24" rx="4.61" ry="5.29" fill="#e8f030" transform="rotate(30 114.81 451.24)"/>
<ellipse cx="114.92" cy="444.57" rx="3.57" ry="4.03" fill="#e8f030" transform="rotate(-30 114.92 444.57)"/>
<ellipse cx="114.89" cy="451.14" rx="3.85" ry="4.43" fill="#ff8010" transform="rotate(30 114.89 451.14)"/>
<ellipse cx="114.99" cy="444.64" rx="2.91" ry="3.29" fill="#ff8010" transform="rotate(-30 114.99 444.64)"/>
<ellipse cx="114.96" cy="451.06" rx="3.20" ry="3.67" fill="#e01808" transform="rotate(30 114.96 451.06)"/>
<ellipse cx="115.05" cy="444.70" rx="2.35" ry="2.65" fill="#e01808" transform="rotate(-30 115.05 444.70)"/>
<ellipse cx="115.05" cy="450.95" rx="2.35" ry="2.70" fill="#860000" transform="rotate(30 115.05 450.95)"/>
<ellipse cx="115.13" cy="444.78" rx="1.60" ry="1.80" fill="#860000" transform="rotate(-30 115.13 444.78)"/>
<ellipse cx="138.79" cy="451.36" rx="5.55" ry="6.37" fill="#50f0b0" transform="rotate(-30 138.79 451.36)"/>
<ellipse cx="138.66" cy="444.49" rx="4.32" ry="4.88" fill="#50f0b0" transform="rotate(30 138.66 444.49)"/>
<ellipse cx="138.69" cy="451.24" rx="4.61" ry="5.29" fill="#e8f030" transform="rotate(-30 138.69 451.24)"/>
<ellipse cx="138.58" cy="444.57" rx="3.57" ry="4.03" fill="#e8f030" transform="rotate(30 138.58 444.57)"/>
<ellipse cx="138.61" cy="451.14" rx="3.85" ry="4.43" fill="#ff8010" transform="rotate(-30 138.61 451.14)"/>
<ellipse cx="138.51" cy="444.64" rx="2.91" ry="3.29" fill="#ff8010" transform="rotate(30 138.51 444.64)"/>
<ellipse cx="138.54" cy="451.06" rx="3.20" ry="3.67" fill="#e01808" transform="rotate(-30 138.54 451.06)"/>
<ellipse cx="138.45" cy="444.70" rx="2.35" ry="2.65" fill="#e01808" transform="rotate(30 138.45 444.70)"/>
<ellipse cx="138.45" cy="450.95" rx="2.35" ry="2.70" fill="#860000" transform="rotate(-30 138.45 450.95)"/>
<ellipse cx="138.37" cy="444.78" rx="1.60" ry="1.80" fill="#860000" transform="rotate(30 138.37 444.78)"/>
</g>
<rect x="94.2" y="446.75000000000006" width="62.9" height="1.3" fill="#04065c" opacity="0.6" filter="url(#b05)"/>
<rect x="124.55" y="433.65000000000003" width="4.4" height="34" fill="#0808a0" opacity="0.55" filter="url(#b1)"/>
<rect x="126.35" y="449.0" width="1.2" height="43.700000000000045" fill="#050866" opacity="0.45" filter="url(#b05)"/>
<rect x="126.35" y="434.8" width="1.0" height="11.5" fill="#050866" opacity="0.2" filter="url(#b05)"/>
</g>
<rect x="114.8" y="446.3" width="23.9" height="2.7" fill="url(#gold)" stroke="#3c3600" stroke-width="0.7"/>
<rect x="94.2" y="492.8" width="63.4" height="3.4" fill="url(#gold)" stroke="#3c3600" stroke-width="0.7"/>
<rect x="81.7" y="396.2" width="6.4" height="34.6" fill="url(#hot)"/>
<text x="62.00" y="402.1" font-family='"Liberation Serif", serif' font-size="9.1" fill="#111">Max</text>
<text x="63.00" y="432.0" font-family='"Liberation Serif", serif' font-size="9.1" fill="#111">Min</text>
<g>
<path d="M134.3 413.9 V405.9 M134.3 413.9 H142.3" stroke="#fff" stroke-width="1.3" fill="none"/>
<path d="M134.3 400.59999999999997 l-2.0 5.6 h4.0 Z M147.20000000000002 413.9 l-5.6 -1.8 v3.6 Z" fill="#fff"/>
<circle cx="134.3" cy="413.9" r="2.35" fill="#e01018" stroke="#fff" stroke-width="1"/>
<circle cx="134.3" cy="413.9" r="0.55" fill="#fff" opacity="0.9"/>
<text x="138.00" y="402.30" font-family='"Liberation Serif", serif' font-size="9" font-style="italic" font-weight="bold" fill="#fff">z</text>
<text x="124.30" y="416.60" font-family='"Liberation Serif", serif' font-size="10" font-style="italic" font-weight="bold" fill="#fff">x</text>
<text x="148.10" y="415.80" font-family='"Liberation Serif", serif' font-size="10" font-style="italic" font-weight="bold" fill="#fff">y</text>
</g>
<text x="129.2" y="508.4" font-family='"Liberation Serif", serif' font-size="10.7" font-weight="bold" text-anchor="middle" fill="#111">Isolated nanopatch</text>
<text x="128.4" y="521.3" font-family='"Liberation Serif", serif' font-size="10.7" font-weight="bold" text-anchor="middle" fill="#111">@1550 nm</text>
<clipPath id="pc4"><rect x="215.3" y="394.4" width="61.1" height="97.9"/></clipPath>
<g clip-path="url(#pc4)">
<rect x="215.3" y="394.4" width="61.1" height="97.9" fill="#1b5cf1"/>
<rect x="215.3" y="444.59999999999997" width="61.1" height="47.69999999999999" fill="#2b66e8"/>
<g filter="url(#b07)">
<path d="M217.75 492.30 L217.79 472.52 L217.89 466.26 L218.08 461.80 L218.33 458.29 L218.67 455.40 L219.09 452.98 L219.60 450.95 L220.21 449.25 L220.94 447.86 L221.81 446.74 L222.87 445.88 L224.21 445.28 L226.09 444.92 L232.05 444.80 L236.88 444.92 L238.41 445.28 L239.50 445.88 L240.36 446.74 L241.06 447.86 L241.65 449.25 L242.15 450.95 L242.56 452.98 L242.90 455.40 L243.18 458.29 L243.39 461.80 L243.53 466.26 L243.62 472.52 L243.65 492.30 Z" fill="#3688f0"/>
<path d="M219.95 492.30 L219.99 477.21 L220.10 471.03 L220.29 466.38 L220.56 462.59 L220.92 459.40 L221.35 456.69 L221.88 454.38 L222.50 452.42 L223.22 450.80 L224.08 449.49 L225.10 448.48 L226.34 447.77 L228.00 447.34 L232.05 447.20 L235.83 447.34 L237.38 447.77 L238.54 448.48 L239.49 449.49 L240.29 450.80 L240.97 452.42 L241.55 454.38 L242.04 456.69 L242.45 459.40 L242.78 462.59 L243.03 466.38 L243.21 471.03 L243.31 477.21 L243.35 492.30 Z" fill="#3cb2f2"/>
<path d="M221.65 492.30 L221.69 480.30 L221.80 474.33 L222.00 469.63 L222.27 465.68 L222.62 462.29 L223.05 459.35 L223.57 456.82 L224.17 454.66 L224.88 452.86 L225.69 451.39 L226.63 450.25 L227.75 449.44 L229.18 448.96 L232.05 448.80 L235.06 448.96 L236.55 449.44 L237.73 450.25 L238.72 451.39 L239.57 452.86 L240.31 454.66 L240.94 456.82 L241.48 459.35 L241.93 462.29 L242.30 465.68 L242.59 469.63 L242.79 474.33 L242.91 480.30 L242.95 492.30 Z" fill="#34dcf2"/>
<path d="M223.85 492.30 L223.89 483.00 L223.99 477.37 L224.17 472.69 L224.42 468.63 L224.74 465.06 L225.13 461.91 L225.59 459.15 L226.13 456.77 L226.74 454.76 L227.44 453.12 L228.23 451.84 L229.14 450.93 L230.24 450.38 L232.05 450.20 L234.30 450.38 L235.67 450.93 L236.80 451.84 L237.78 453.12 L238.65 454.76 L239.41 456.77 L240.08 459.15 L240.66 461.91 L241.14 465.06 L241.54 468.63 L241.85 472.69 L242.07 477.37 L242.21 483.00 L242.25 492.30 Z" fill="#2ceec8"/>
<path d="M226.85 492.30 L226.88 484.18 L226.97 478.80 L227.11 474.21 L227.31 470.16 L227.57 466.55 L227.88 463.34 L228.25 460.51 L228.68 458.05 L229.17 455.97 L229.71 454.26 L230.32 452.92 L231.01 451.97 L231.83 451.39 L233.05 451.20 L234.71 451.39 L235.81 451.97 L236.75 452.92 L237.58 454.26 L238.31 455.97 L238.97 458.05 L239.55 460.51 L240.05 463.34 L240.48 466.55 L240.83 470.16 L241.10 474.21 L241.29 478.80 L241.41 484.18 L241.45 492.30 Z" fill="#3cec78"/>
<path d="M229.65 492.30 L229.67 489.02 L229.73 486.18 L229.82 483.53 L229.96 481.07 L230.13 478.78 L230.33 476.68 L230.57 474.79 L230.84 473.11 L231.13 471.67 L231.46 470.47 L231.81 469.53 L232.18 468.85 L232.59 468.44 L233.05 468.30 L233.73 468.44 L234.33 468.85 L234.88 469.53 L235.39 470.47 L235.87 471.67 L236.30 473.11 L236.70 474.79 L237.05 476.68 L237.35 478.78 L237.60 481.07 L237.79 483.53 L237.94 486.18 L238.02 489.02 L238.05 492.30 Z" fill="#48ec54"/>
<path d="M273.95 492.30 L273.91 472.52 L273.81 466.26 L273.62 461.80 L273.37 458.29 L273.03 455.40 L272.61 452.98 L272.10 450.95 L271.49 449.25 L270.76 447.86 L269.89 446.74 L268.83 445.88 L267.49 445.28 L265.61 444.92 L259.65 444.80 L254.82 444.92 L253.29 445.28 L252.20 445.88 L251.34 446.74 L250.64 447.86 L250.05 449.25 L249.55 450.95 L249.14 452.98 L248.80 455.40 L248.52 458.29 L248.31 461.80 L248.17 466.26 L248.08 472.52 L248.05 492.30 Z" fill="#3688f0"/>
<path d="M271.75 492.30 L271.71 477.21 L271.60 471.03 L271.41 466.38 L271.14 462.59 L270.78 459.40 L270.35 456.69 L269.82 454.38 L269.20 452.42 L268.48 450.80 L267.62 449.49 L266.60 448.48 L265.36 447.77 L263.70 447.34 L259.65 447.20 L255.87 447.34 L254.32 447.77 L253.16 448.48 L252.21 449.49 L251.41 450.80 L250.73 452.42 L250.15 454.38 L249.66 456.69 L249.25 459.40 L248.92 462.59 L248.67 466.38 L248.49 471.03 L248.39 477.21 L248.35 492.30 Z" fill="#3cb2f2"/>
<path d="M270.05 492.30 L270.01 480.30 L269.90 474.33 L269.70 469.63 L269.43 465.68 L269.08 462.29 L268.65 459.35 L268.13 456.82 L267.53 454.66 L266.82 452.86 L266.01 451.39 L265.07 450.25 L263.95 449.44 L262.52 448.96 L259.65 448.80 L256.64 448.96 L255.15 449.44 L253.97 450.25 L252.98 451.39 L252.13 452.86 L251.39 454.66 L250.76 456.82 L250.22 459.35 L249.77 462.29 L249.40 465.68 L249.11 469.63 L248.91 474.33 L248.79 480.30 L248.75 492.30 Z" fill="#34dcf2"/>
<path d="M267.85 492.30 L267.81 483.00 L267.71 477.37 L267.53 472.69 L267.28 468.63 L266.96 465.06 L266.57 461.91 L266.11 459.15 L265.57 456.77 L264.96 454.76 L264.26 453.12 L263.47 451.84 L262.56 450.93 L261.46 450.38 L259.65 450.20 L257.40 450.38 L256.03 450.93 L254.90 451.84 L253.92 453.12 L253.05 454.76 L252.29 456.77 L251.62 459.15 L251.04 461.91 L250.56 465.06 L250.16 468.63 L249.85 472.69 L249.63 477.37 L249.49 483.00 L249.45 492.30 Z" fill="#2ceec8"/>
<path d="M264.85 492.30 L264.82 484.18 L264.73 478.80 L264.59 474.21 L264.39 470.16 L264.13 466.55 L263.82 463.34 L263.45 460.51 L263.02 458.05 L262.53 455.97 L261.99 454.26 L261.38 452.92 L260.69 451.97 L259.87 451.39 L258.65 451.20 L256.99 451.39 L255.89 451.97 L254.95 452.92 L254.12 454.26 L253.39 455.97 L252.73 458.05 L252.15 460.51 L251.65 463.34 L251.22 466.55 L250.87 470.16 L250.60 474.21 L250.41 478.80 L250.29 484.18 L250.25 492.30 Z" fill="#3cec78"/>
<path d="M262.05 492.30 L262.03 489.02 L261.97 486.18 L261.88 483.53 L261.74 481.07 L261.57 478.78 L261.37 476.68 L261.13 474.79 L260.86 473.11 L260.57 471.67 L260.24 470.47 L259.89 469.53 L259.52 468.85 L259.11 468.44 L258.65 468.30 L257.97 468.44 L257.37 468.85 L256.82 469.53 L256.31 470.47 L255.83 471.67 L255.40 473.11 L255.00 474.79 L254.65 476.68 L254.35 478.78 L254.10 481.07 L253.91 483.53 L253.76 486.18 L253.68 489.02 L253.65 492.30 Z" fill="#48ec54"/>
</g>
<g filter="url(#b05)">
<path d="M233.10 444.00 Q226.60 441.60 219.60 444.40" stroke="#3a90f2" stroke-width="1.2" fill="none"/>
<ellipse cx="236.60" cy="442.80" rx="5.4" ry="5.2" fill="#2f90f2" />
<ellipse cx="236.40" cy="443.40" rx="3.7" ry="3.5" fill="#30c4f2" />
<ellipse cx="236.00" cy="444.20" rx="2.1" ry="1.8" fill="#34e4d8" />
<ellipse cx="234.60" cy="449.30" rx="2.4" ry="2.0" fill="#c4f040" />
<ellipse cx="234.50" cy="448.90" rx="1.2" ry="1.0" fill="#f8a428" />
<path d="M258.30 444.00 Q264.80 441.60 271.80 444.40" stroke="#3a90f2" stroke-width="1.2" fill="none"/>
<ellipse cx="254.80" cy="442.80" rx="5.4" ry="5.2" fill="#2f90f2" />
<ellipse cx="255.00" cy="443.40" rx="3.7" ry="3.5" fill="#30c4f2" />
<ellipse cx="255.40" cy="444.20" rx="2.1" ry="1.8" fill="#34e4d8" />
<ellipse cx="256.80" cy="449.30" rx="2.4" ry="2.0" fill="#c4f040" />
<ellipse cx="256.90" cy="448.90" rx="1.2" ry="1.0" fill="#f8a428" />
</g>
</g>
<rect x="233.6" y="444.9" width="24.2" height="3.0" fill="url(#gold)" stroke="#3c3600" stroke-width="0.7"/>
<rect x="215.1" y="492.6" width="61.5" height="3.1" fill="url(#gold)" stroke="#3c3600" stroke-width="0.7"/>
<rect x="202.4" y="395.8" width="6.7" height="35.0" fill="url(#jet)"/>
<text x="180.90" y="399.4" font-family='"Liberation Serif", serif' font-size="9.1" fill="#111">Max</text>
<text x="181.90" y="433.4" font-family='"Liberation Serif", serif' font-size="9.1" fill="#111">Min</text>
<g>
<path d="M256.3 413.9 V405.9 M256.3 413.9 H264.3" stroke="#fff" stroke-width="1.3" fill="none"/>
<path d="M256.3 400.59999999999997 l-2.0 5.6 h4.0 Z M269.2 413.9 l-5.6 -1.8 v3.6 Z" fill="#fff"/>
<circle cx="256.3" cy="413.9" r="2.35" fill="#e01018" stroke="#fff" stroke-width="1"/>
<circle cx="256.3" cy="413.9" r="0.55" fill="#fff" opacity="0.9"/>
<text x="260.00" y="402.30" font-family='"Liberation Serif", serif' font-size="9" font-style="italic" font-weight="bold" fill="#fff">z</text>
<text x="246.30" y="416.60" font-family='"Liberation Serif", serif' font-size="10" font-style="italic" font-weight="bold" fill="#fff">x</text>
<text x="270.10" y="415.80" font-family='"Liberation Serif", serif' font-size="10" font-style="italic" font-weight="bold" fill="#fff">y</text>
</g>
<text x="246" y="509.3" font-family='"Liberation Serif", serif' font-size="10.7" font-weight="bold" text-anchor="middle" fill="#111">Typical field</text>
<text x="245.5" y="521.9" font-family='"Liberation Serif", serif' font-size="10.7" font-weight="bold" text-anchor="middle" fill="#111">distribution of PSPs</text>
<text x="173.2" y="524.2" font-family='"Liberation Serif", serif' font-size="11.4" font-weight="bold" fill="#111">(c)</text>
</g>
</svg></body></html>
